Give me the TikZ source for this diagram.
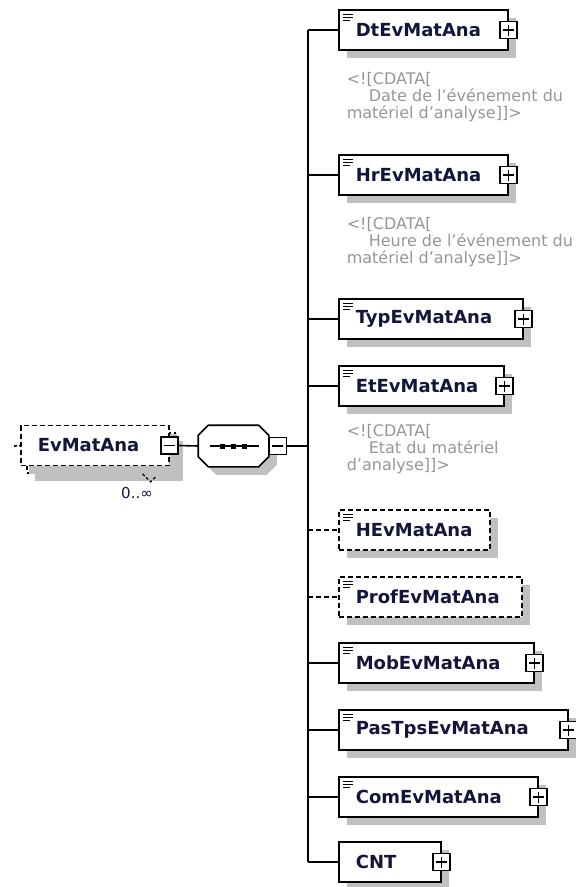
\documentclass[tikz,border=0pt]{standalone}
\usepackage{fontspec}
\setmainfont{DejaVu Sans}
\usetikzlibrary{shadows,calc}
\definecolor{NameCol}{RGB}{20,20,60}
\definecolor{NoteCol}{RGB}{150,150,150}
\definecolor{ShadeCol}{RGB}{192,192,192}
\hyphenpenalty=10000
\exhyphenpenalty=10000

\begin{document}
\begin{tikzpicture}[
        %Environment config
        x=1pt, y=-1pt,
        line width=1.6pt,
        %Environment styles
        ShadowCfg/.style={
            drop shadow={shadow xshift=8pt,shadow yshift=-8pt,fill=ShadeCol,opacity=1}
        },
        BoxCfg/.style={
            draw, fill=white, ShadowCfg,
            anchor=west, minimum height=40pt,
            inner xsep=17pt, inner ysep=0pt, align=left,
            font=\bfseries\fontsize{18}{20}\selectfont,
            text=NameCol
        },
        ElemCfg/.style={
            BoxCfg,
            path picture={
                \draw[solid,line width=1pt]
                    ([xshift=4pt,yshift=-4pt]path picture bounding box.north west) -- ++(10,0)
                    ([xshift=4pt,yshift=-7pt]path picture bounding box.north west) -- ++(10,0)
                    ([xshift=4pt,yshift=-10pt]path picture bounding box.north west) -- ++(7,0);
            }
        },
        OptCfg/.style={
            ElemCfg, dash pattern=on 5pt off 3pt
        },
        PlusCfg/.style={
            draw, fill=white, solid, line width=1.3pt,
            minimum size=17pt, inner sep=0pt,
            path picture={
                \draw ([xshift=3pt]path picture bounding box.west) -- ([xshift=-3pt]path picture bounding box.east)
                    ([yshift=-3pt]path picture bounding box.north) -- ([yshift=3pt]path picture bounding box.south);
            }
        },
        MinusCfg/.style={
            draw, fill=white, solid, line width=1.3pt,
            minimum size=17pt, inner sep=0pt,
            path picture={
                \draw ([xshift=3pt]path picture bounding box.west) -- ([xshift=-3pt]path picture bounding box.east);
            }
        },
        NoteCfg/.style={
            anchor=north west, inner sep=0pt, align=left,
            font=\fontsize{16}{17}\selectfont, text=NoteCol
        }
    ]
    \useasboundingbox (0,0) rectangle (576,887);

    % root element, repeated 0..unbounded
    \node[BoxCfg, dash pattern=on 5pt off 3pt, text width=114pt] (RootBack) at (26,453) {};
    \node[BoxCfg, dash pattern=on 5pt off 3pt, text width=114pt, drop shadow={opacity=0}] (Root) at (20,445.5) {EvMatAna};
    \node[MinusCfg] (RootM) at (Root.east) {};
    \node[font=\fontsize{15}{18}\selectfont, text=NameCol] (Mult) at (137,493) {0..∞};
    \draw[line width=1.2pt, dash pattern=on 3pt off 2pt]
        ($(RootBack.south east)+(-33,0)$) -- ++(8,8) -- ++(6,-6);
    \coordinate (In) at (14,446);
    \draw[dash pattern=on 3pt off 2pt] (In) -- (Root.west);

    % sequence
    \node[minimum width=69pt, minimum height=40pt, inner sep=0pt] (Seq) at (233.5,446) {};
    \draw[fill=white, ShadowCfg]
        ([xshift=10pt]Seq.north west) -- ([xshift=-10pt]Seq.north east)
        -- ([yshift=-10pt]Seq.north east) -- ([yshift=10pt]Seq.south east)
        -- ([xshift=-10pt]Seq.south east) -- ([xshift=10pt]Seq.south west)
        -- ([yshift=10pt]Seq.south west) -- ([yshift=-10pt]Seq.north west) -- cycle;
    \draw[line width=1.2pt] ([xshift=-24pt]Seq.center) -- ([xshift=25pt]Seq.center);
    \fill ([xshift=-11pt]Seq.center) +(-2.5,-2.5) rectangle +(2.5,2.5);
    \fill (Seq.center) +(-2.5,-2.5) rectangle +(2.5,2.5);
    \fill ([xshift=11pt]Seq.center) +(-2.5,-2.5) rectangle +(2.5,2.5);
    \node[MinusCfg, anchor=west] (SeqM) at (Seq.east) {};
    \coordinate (Bus) at (308,446);
    \draw (RootM.east) -- (Seq.west);
    \draw (SeqM.east) -- (Bus);

    % children
    \node[ElemCfg, text width=135pt] (Dt) at (338,30) {DtEvMatAna};
    \node[PlusCfg] (DtP) at (Dt.east) {};
    \node[NoteCfg] (DtNote) at (346,72) {<![CDATA[\\\hspace*{22pt}Date de l'événement du\\matériel d'analyse]]>};

    \node[ElemCfg, text width=135pt] (Hr) at (338,175) {HrEvMatAna};
    \node[PlusCfg] (HrP) at (Hr.east) {};
    \node[NoteCfg] (HrNote) at (346,217) {<![CDATA[\\\hspace*{22pt}Heure de l'événement du\\matériel d'analyse]]>};

    \node[ElemCfg, text width=150pt] (Typ) at (338,319) {TypEvMatAna};
    \node[PlusCfg] (TypP) at (Typ.east) {};

    \node[ElemCfg, text width=131pt] (Et) at (338,386) {EtEvMatAna};
    \node[PlusCfg] (EtP) at (Et.east) {};
    \node[NoteCfg] (EtNote) at (346,424) {<![CDATA[\\\hspace*{22pt}Etat du matériel\\d'analyse]]>};

    \node[OptCfg, text width=117pt] (HEv) at (338,530) {HEvMatAna};

    \node[OptCfg, text width=149pt] (Prof) at (338,597) {ProfEvMatAna};

    \node[ElemCfg, text width=161pt] (Mob) at (338,663) {MobEvMatAna};
    \node[PlusCfg] (MobP) at (Mob.east) {};

    \node[ElemCfg, text width=195pt] (PasTps) at (338,730) {PasTpsEvMatAna};
    \node[PlusCfg] (PasTpsP) at (PasTps.east) {};

    \node[ElemCfg, text width=165pt] (Com) at (338,797) {ComEvMatAna};
    \node[PlusCfg] (ComP) at (Com.east) {};

    \node[BoxCfg, text width=68pt] (CNT) at (338,862) {CNT};
    \node[PlusCfg] (CNTP) at (CNT.east) {};

    \draw
        (Dt.west -| Bus) -- (CNT.west -| Bus)
        (Dt.west -| Bus) -- (Dt.west)
        (Hr.west -| Bus) -- (Hr.west)
        (Typ.west -| Bus) -- (Typ.west)
        (Et.west -| Bus) -- (Et.west)
        (Mob.west -| Bus) -- (Mob.west)
        (PasTps.west -| Bus) -- (PasTps.west)
        (Com.west -| Bus) -- (Com.west)
        (CNT.west -| Bus) -- (CNT.west);
    \draw[dash pattern=on 5pt off 3pt]
        (HEv.west -| Bus) -- (HEv.west)
        (Prof.west -| Bus) -- (Prof.west);
\end{tikzpicture}
\end{document}
